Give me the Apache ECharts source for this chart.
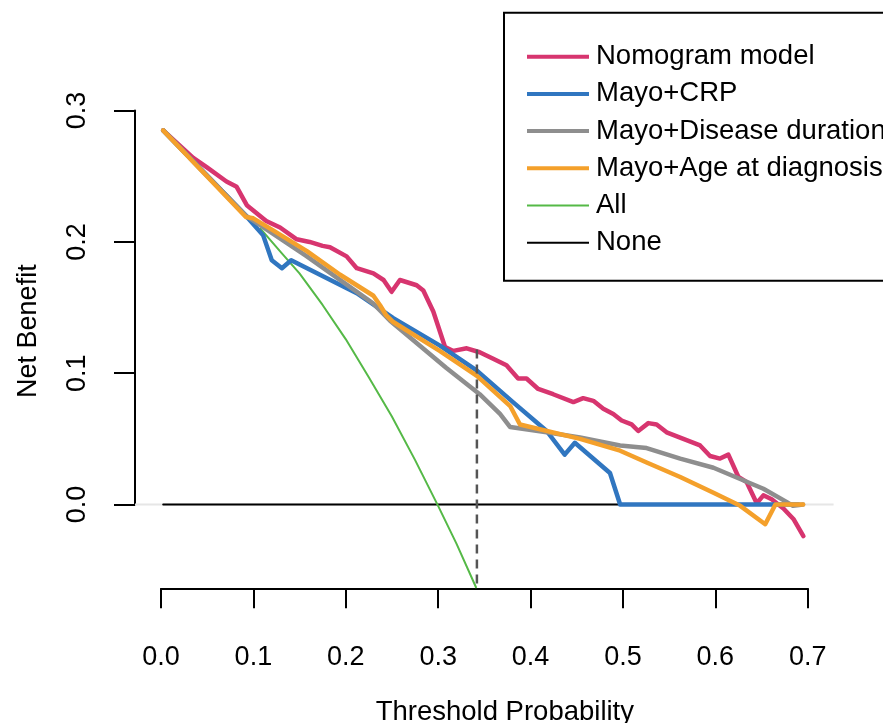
<!DOCTYPE html>
<html>
<head>
<meta charset="utf-8">
<script src="https://cdn.jsdelivr.net/npm/echarts@6/dist/echarts.min.js"></script>
<style>html,body{margin:0;padding:0;background:#fff;}#c{width:883px;height:723px;}</style>
</head>
<body>
<div id="c"></div>
<script>
// ---- data ----
const seriesNames = ["Nomogram model", "Mayo+CRP", "Mayo+Disease duration", "Mayo+Age at diagnosis", "All", "None"];
const xTickLabels = ["0.0", "0.1", "0.2", "0.3", "0.4", "0.5", "0.6", "0.7"];
const yTickLabels = ["0.0", "0.1", "0.2", "0.3"];

const nomoX = [0.0025, 0.035, 0.0495, 0.071, 0.082, 0.093, 0.107, 0.114, 0.129, 0.147, 0.161, 0.175, 0.183, 0.201, 0.212, 0.23, 0.241, 0.2497, 0.2587, 0.2768, 0.284, 0.2948, 0.3075, 0.3165, 0.331, 0.345, 0.3596, 0.374, 0.3866, 0.3957, 0.4083, 0.4245, 0.4464, 0.457, 0.468, 0.4788, 0.4896, 0.4986, 0.5094, 0.5166, 0.5275, 0.5365, 0.5473, 0.5654, 0.5835, 0.5943, 0.6051, 0.6141, 0.625, 0.634, 0.6448, 0.652, 0.661, 0.6737, 0.6845, 0.6953];
const nomoY = [0.285, 0.264, 0.257, 0.246, 0.242, 0.228, 0.220, 0.216, 0.211, 0.202, 0.200, 0.197, 0.196, 0.189, 0.180, 0.176, 0.171, 0.162, 0.171, 0.167, 0.163, 0.147, 0.120, 0.117, 0.119, 0.116, 0.111, 0.106, 0.096, 0.096, 0.088, 0.084, 0.078, 0.081, 0.079, 0.073, 0.069, 0.064, 0.061, 0.056, 0.062, 0.061, 0.055, 0.050, 0.045, 0.037, 0.035, 0.038, 0.021, 0.017, 0.001, 0.007, 0.004, -0.003, -0.011, -0.024];

const crpX = [0.0025, 0.092, 0.1107, 0.12, 0.131, 0.141, 0.212, 0.2515, 0.302, 0.342, 0.381, 0.4175, 0.437, 0.448, 0.486, 0.497, 0.69];
const crpY = [0.285, 0.220, 0.205, 0.186, 0.180, 0.186, 0.161, 0.142, 0.121, 0.102, 0.078, 0.056, 0.038, 0.047, 0.024, 0.000, 0.000];

const durX = [0.0025, 0.092, 0.158, 0.23, 0.248, 0.309, 0.345, 0.367, 0.378, 0.4175, 0.4536, 0.497, 0.5257, 0.562, 0.598, 0.652, 0.677, 0.684, 0.695];
const durY = [0.285, 0.220, 0.189, 0.153, 0.140, 0.104, 0.084, 0.069, 0.059, 0.055, 0.051, 0.045, 0.043, 0.035, 0.028, 0.012, 0.002, -0.001, 0.000];

const ageX = [0.0025, 0.092, 0.1, 0.121, 0.158, 0.194, 0.23, 0.237, 0.244, 0.2515, 0.3017, 0.342, 0.378, 0.3886, 0.4536, 0.497, 0.5257, 0.562, 0.598, 0.627, 0.654, 0.665, 0.695];
const ageY = [0.285, 0.219, 0.218, 0.209, 0.193, 0.175, 0.159, 0.152, 0.144, 0.139, 0.117, 0.098, 0.075, 0.061, 0.050, 0.041, 0.032, 0.021, 0.009, -0.001, -0.015, 0.000, 0.000];

const allX = [0.108, 0.13, 0.15, 0.175, 0.2, 0.225, 0.25, 0.275, 0.3, 0.32, 0.341];
const allY = [0.210, 0.192, 0.176, 0.152, 0.126, 0.097, 0.067, 0.034, -0.001, -0.030, -0.063];

const noneX = [0.0025, 0.695];
const noneY = [0, 0];

// light grey horizontal reference at zero across the plotting region
const zeroX = [-0.028, 0.728];
const zeroY = [0, 0];

// vertical dashed reference line
const refX = [0.342, 0.342];
const refY = [0.118, -0.0638];

// ---- chart ----
const pairs = (xs, ys) => xs.map((x, i) => [x, ys[i]]);
const FONT = '"Liberation Sans", Arial, sans-serif';
const colors = ["#D7356F", "#3076C0", "#8E8E8E", "#F4A02B", "#55B947", "#000000"];
const widths = [4.5, 4.5, 4.5, 4.5, 2, 2];
const dataX = [nomoX, crpX, durX, ageX, allX, noneX];
const dataY = [nomoY, crpY, durY, ageY, allY, noneY];
const zOrder = [4, 5, 6, 7, 3, 2];
const THICK_ICON = 'rect';
const THIN_ICON = 'path://M0,0M0,4M0,1L62,1L62,3L0,3Z';

const chart = echarts.init(document.getElementById('c'), null, { renderer: 'canvas' });

const series = seriesNames.map((n, i) => ({
  name: n, type: 'line', xAxisIndex: 0, yAxisIndex: 0,
  data: pairs(dataX[i], dataY[i]),
  symbol: 'none', showSymbol: false, smooth: false, z: zOrder[i],
  lineStyle: { color: colors[i], width: widths[i], cap: 'round', join: 'round' },
  itemStyle: { color: colors[i] },
  emphasis: { disabled: true }
}));
series.unshift({
  type: 'line', xAxisIndex: 0, yAxisIndex: 0, data: pairs(zeroX, zeroY), z: 1, silent: true,
  symbol: 'none', lineStyle: { color: '#E6E6E6', width: 2 }
});
series.push({
  type: 'line', xAxisIndex: 0, yAxisIndex: 0, data: pairs(refX, refY), z: 9,
  symbol: 'none', silent: true,
  lineStyle: { color: '#555555', width: 2.5, type: [9, 6] }
});

const option = {
  animation: false,
  backgroundColor: '#fff',
  grid: [
    { left: 135, right: 49.4, top: 74, bottom: 134.7, outerBoundsMode: 'none' },     // data area
    { left: 161, right: 75.3, top: 110.6, bottom: 134.7, outerBoundsMode: 'none' },  // x axis
    { left: 135, right: 49.4, top: 110.6, bottom: 218.5, outerBoundsMode: 'none' }   // y axis
  ],
  xAxis: [
    { gridIndex: 0, type: 'value', min: -0.028, max: 0.728, show: true,
      axisLine: { show: false }, axisTick: { show: false }, axisLabel: { show: false }, splitLine: { show: false } },
    { gridIndex: 1, type: 'value', min: 0, max: 0.7, interval: 0.1,
      name: 'Threshold Probability', nameLocation: 'middle', nameGap: 110,
      nameTextStyle: { fontFamily: FONT, fontSize: 27.5, color: '#000', padding: [0, 0, 0, 41] },
      axisLine: { show: true, onZero: false, lineStyle: { color: '#000', width: 2 } },
      axisTick: { show: true, inside: false, length: 20, lineStyle: { color: '#000', width: 2 } },
      axisLabel: { show: true, margin: 56, fontFamily: FONT, fontSize: 27, color: '#000',
        formatter: v => xTickLabels[Math.round(v * 10)] },
      splitLine: { show: false } },
    { gridIndex: 2, type: 'value', min: 0, max: 0.7, show: false }
  ],
  yAxis: [
    { gridIndex: 0, type: 'value', min: -0.0638, max: 0.3279, show: true,
      name: 'Net Benefit', nameLocation: 'middle', nameGap: 93,
      nameTextStyle: { fontFamily: FONT, fontSize: 27, color: '#000' },
      axisLine: { show: false }, axisTick: { show: false }, axisLabel: { show: false }, splitLine: { show: false } },
    { gridIndex: 1, type: 'value', min: 0, max: 1, show: false },
    { gridIndex: 2, type: 'value', min: 0, max: 0.3, interval: 0.1,
      axisLine: { show: true, onZero: false, lineStyle: { color: '#000', width: 2 } },
      axisTick: { show: true, inside: false, length: 21, lineStyle: { color: '#000', width: 2 } },
      axisLabel: { show: true, rotate: 90, margin: 44, fontFamily: FONT, fontSize: 27, color: '#000',
        formatter: v => yTickLabels[Math.round(v * 10)] },
      splitLine: { show: false } }
  ],
  legend: {
    data: seriesNames.map((n, i) => ({ name: n, icon: widths[i] > 3 ? THICK_ICON : THIN_ICON })),
    orient: 'vertical', left: 504, top: 12.7,
    padding: [30, 40, 24, 23],
    itemWidth: 62, itemHeight: 4, itemGap: 9.2,
    borderColor: '#000', borderWidth: 2, backgroundColor: '#fff',
    selectedMode: false,
    textStyle: { fontFamily: FONT, fontSize: 27.5, color: '#000', lineHeight: 27, padding: [0, 0, 0, 2] }
  },
  series: series
};
chart.setOption(option);
</script>
</body>
</html>
